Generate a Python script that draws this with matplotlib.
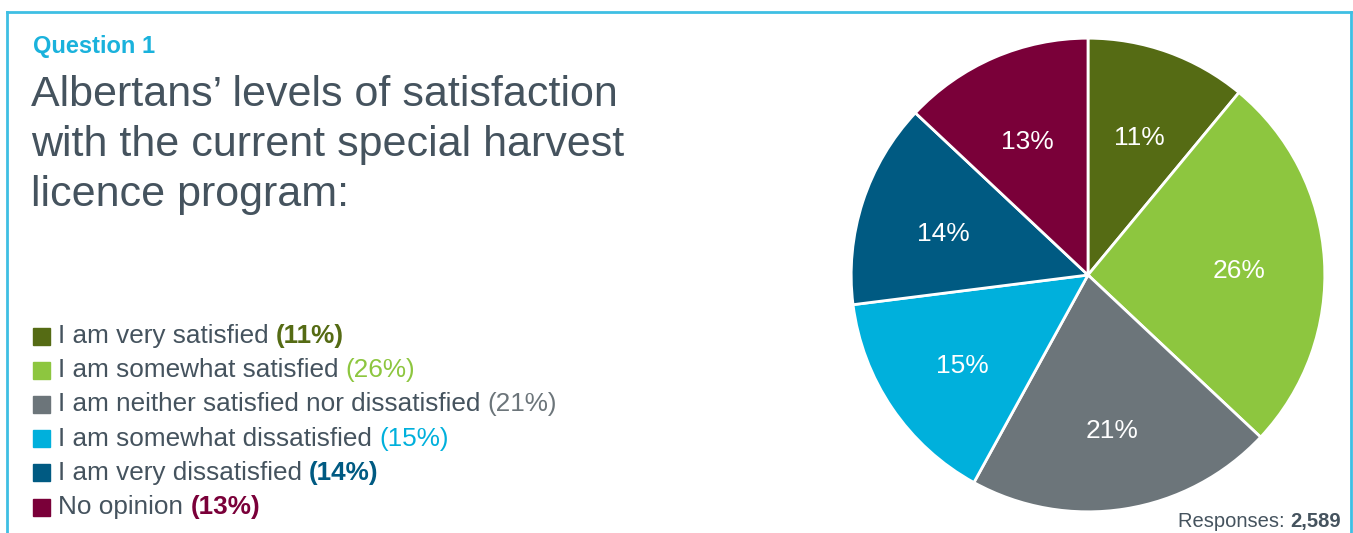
import matplotlib.pyplot as plt
from matplotlib.lines import Line2D
from matplotlib.patches import Rectangle
from matplotlib.text import Annotation

plt.rcParams['font.family'] = ['Liberation Sans', 'DejaVu Sans']

categories = ["I am very satisfied", "I am somewhat satisfied",
              "I am neither satisfied nor dissatisfied", "I am somewhat dissatisfied",
              "I am very dissatisfied", "No opinion"]
values = [11, 26, 21, 15, 14, 13]
colors = ["#556b14", "#8dc63f", "#6c757a", "#00b0dc", "#005a82", "#7a0039"]
bold_pct = [True, False, False, False, True, True]
title_lines = ["Albertans’ levels of satisfaction", "with the current special harvest",
               "licence program:"]
responses = "2,589"

W, H = 1353, 533
fig = plt.figure(figsize=(W / 100, H / 100), dpi=100)
fig.patch.set_facecolor("white")


def fx(px):
    return px / W


def fy(py):
    return 1 - py / H


# cyan frame, open at the bottom
frame_c = "#3fbfe3"
for xs, ys in [([7, 1351], [12, 12]), ([7, 7], [12, 533]), ([1351, 1351], [12, 533])]:
    fig.add_artist(Line2D([fx(x) for x in xs], [fy(y) for y in ys], color=frame_c, lw=2))

text_c = "#45535e"
fig.text(fx(33), fy(53), "Question 1", color="#1ab2dc", fontsize=17, weight="bold",
         va="baseline", ha="left")
for i, line in enumerate(title_lines):
    fig.text(fx(31), fy(106 + 50 * i), line, color=text_c, fontsize=31,
             va="baseline", ha="left")

# legend
row0, step = 336, 34.2
for i, (cat, v, c) in enumerate(zip(categories, values, colors)):
    y = row0 + i * step
    fig.add_artist(Rectangle((fx(33), fy(y + 8.5)), fx(17), 17 / H, color=c,
                             transform=fig.transFigure))
    t = fig.text(fx(58), fy(y + 7), cat + " ", color=text_c, fontsize=18.8,
                 va="baseline", ha="left")
    fig.add_artist(Annotation("(%d%%)" % v, xy=(1, 0), xycoords=t, va="bottom", ha="left",
                              color=c, fontsize=18.8,
                              weight="bold" if bold_pct[i] else "normal"))

# pie
ax = fig.add_axes([fx(850), fy(513), 476 / W, 476 / H])
wedges, texts, autotexts = ax.pie(values, colors=colors, startangle=90, counterclock=False,
                                  autopct="%d%%", pctdistance=0.64,
                                  wedgeprops=dict(edgecolor="white", linewidth=2),
                                  textprops=dict(color="white", fontsize=19))
for at in autotexts:
    x, y = at.get_position()
    at.set_position((x, y - 0.025))
ax.set_xlim(-1.005, 1.005)
ax.set_ylim(-1.005, 1.005)
ax.set_aspect("equal")
ax.axis("off")

# responses footnote
rt = fig.text(fx(1341), fy(527), responses, color=text_c, fontsize=14.5, weight="bold",
              va="baseline", ha="right")
fig.add_artist(Annotation("Responses: ", xy=(0, 0), xycoords=rt, va="bottom", ha="right",
                          color=text_c, fontsize=14.5))

fig.savefig("out.png", dpi=100)
